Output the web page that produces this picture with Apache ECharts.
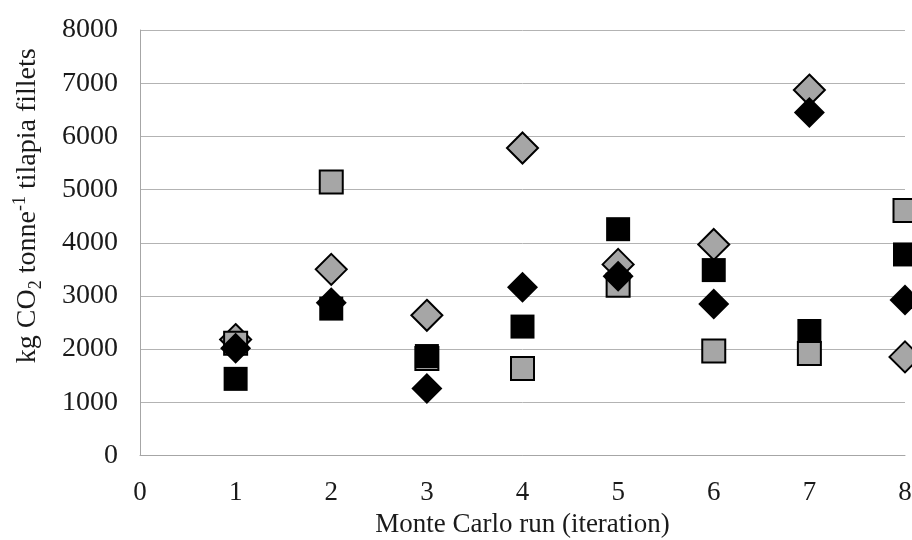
<!DOCTYPE html>
<html>
<head>
<meta charset="utf-8">
<script src="https://cdn.jsdelivr.net/npm/echarts@6/dist/echarts.min.js"></script>
<style>
html,body{margin:0;padding:0;background:#fff;}
#chart{width:912px;height:540px;}
</style>
</head>
<body>
<div id="chart"></div>
<script>
var iterations = [1, 2, 3, 4, 5, 6, 7, 8];
var greyDiamonds  = [2180, 3500, 2636, 5782, 3593, 3968, 6871, 1854];
var greySquares   = [2111, 5144, 1825, 1636, 3199, 1966, 1917, 4606];
var blackSquares  = [1441, 2762, 1870, 2424, 4255, 3486, 2341, 3780];
var blackDiamonds = [2017, 2874, 1261, 3161, 3368, 2848, 6450, 2923];
var xTicks = [0, 1, 2, 3, 4, 5, 6, 7, 8];
var yTicks = [0, 1000, 2000, 3000, 4000, 5000, 6000, 7000, 8000];

function pairs(vals) {
  return iterations.map(function (x, i) { return [x, vals[i]]; });
}

var FONT = '"Liberation Serif", "Times New Roman", serif';
var TXT = '#1a1a1a';
var chart = echarts.init(document.getElementById('chart'), null, {renderer: 'canvas'});

chart.setOption({
  animation: false,
  backgroundColor: '#ffffff',
  grid: {left: 140, right: 7, top: 30, bottom: 84.5, containLabel: false, outerBoundsMode: 'none'},
  xAxis: {
    type: 'value',
    min: xTicks[0], max: xTicks[xTicks.length - 1], interval: 1,
    name: 'Monte Carlo run (iteration)',
    nameLocation: 'middle',
    nameGap: 56,
    nameTextStyle: {fontFamily: FONT, fontSize: 27, color: TXT},
    axisLine: {show: true, lineStyle: {color: '#a6a6a6', width: 1}},
    axisTick: {show: false},
    splitLine: {show: false},
    axisLabel: {fontFamily: FONT, fontSize: 27, color: TXT, margin: 24,
      formatter: function (v) { return String(v); }}
  },
  yAxis: {
    type: 'value',
    min: yTicks[0], max: yTicks[yTicks.length - 1], interval: 1000,
    name: '{n|kg CO}{sub|2}{n| tonne}{sup|-1}{n| tilapia fillets}',
    nameLocation: 'middle',
    nameGap: 95,
    nameTextStyle: {
      fontFamily: FONT, fontSize: 28, color: TXT,
      padding: [0, 0, 0, 74],
      rich: {
        n: {fontFamily: FONT, fontSize: 28, color: TXT, lineHeight: 34, verticalAlign: 'middle'},
        sub: {fontFamily: FONT, fontSize: 18, color: TXT, lineHeight: 18, verticalAlign: 'bottom'},
        sup: {fontFamily: FONT, fontSize: 18, color: TXT, lineHeight: 18, verticalAlign: 'top'}
      }
    },
    axisLine: {show: true, lineStyle: {color: '#a6a6a6', width: 1}},
    axisTick: {show: false},
    splitLine: {show: true, lineStyle: {color: '#b3b3b3', width: 1}},
    axisLabel: {fontFamily: FONT, fontSize: 28, color: TXT, margin: 22,
      formatter: function (v) { return String(v); }}
  },
  series: [
    {
      type: 'scatter', name: 'Grey diamonds', data: pairs(greyDiamonds),
      symbol: 'diamond', symbolSize: 31, clip: false,
      itemStyle: {color: '#a6a6a6', borderColor: '#000', borderWidth: 2, opacity: 1}
    },
    {
      type: 'scatter', name: 'Grey squares', data: pairs(greySquares),
      symbol: 'rect', symbolSize: 23, clip: false,
      itemStyle: {color: '#a6a6a6', borderColor: '#000', borderWidth: 2, opacity: 1}
    },
    {
      type: 'scatter', name: 'Black squares', data: pairs(blackSquares),
      symbol: 'rect', symbolSize: 24, clip: false,
      itemStyle: {color: '#000', opacity: 1}
    },
    {
      type: 'scatter', name: 'Black diamonds', data: pairs(blackDiamonds),
      symbol: 'diamond', symbolSize: 31, clip: false,
      itemStyle: {color: '#000', opacity: 1}
    }
  ]
});
</script>
</body>
</html>
